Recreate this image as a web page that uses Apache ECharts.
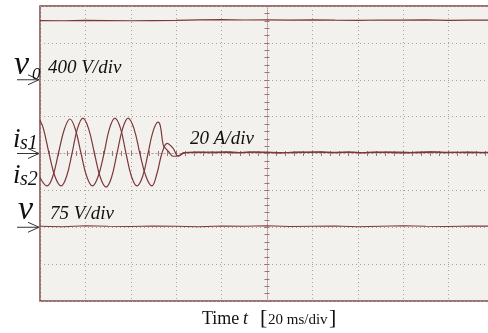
<!DOCTYPE html>
<html><head><meta charset="utf-8">
<script src="https://cdn.jsdelivr.net/npm/echarts@6/dist/echarts.min.js"></script>
<style>html,body{margin:0;padding:0;background:#fff}#c{width:488px;height:333px}</style>
</head><body><div id="c"></div>
<script>
// ---- Data (time in ms, 20 ms/div) ----
const timeMin = 0, timeMax = 200, timeStep = 20;
const divMin = -4, divMax = 4;

// v0 trace (V), 400 V/div
const v0Time  = [0,10,20,30,40,50,60,70,80,90,100,110,120,130,140,150,160,170,180,190,200];
const v0Volts = [642,640,643,641,640,642,645,650,652,648,649,646,650,647,645,648,646,649,645,647,648];

// is1 trace (A), 20 A/div
const is1Time = [0,3.1,5.6,8.1,10.7,13.2,15.6,18.1,20.6,23.1,25.6,28.2,30.6,33.0,35.5,37.9,40.3,42.7,45.2,47.6,49.8,52.0,53.0,54.3,55.5,57.0,58.5,61.0,63.5,
                 70,76,82,88,94,100,106,112,118,124,130,136,142,148,154,160,166,172,178,184,190,196,200];
const is1Amps = [-13,-17.6,-12.5,0,13,18.7,13,0,-12.5,-17.6,-12.5,0,13.5,19.2,13.5,0,-12.5,-17.6,-12.5,0,12,17,15,4.6,2.5,0.5,-1.5,-1.2,0.5,
                 0.7,0.4,0.9,0.5,0.8,0.6,0.3,0.8,0.6,0.9,0.4,0.7,0.5,0.8,0.6,0.3,0.7,0.9,0.5,0.6,0.8,0.4,0.6];

// is2 trace (A), 20 A/div
const is2Time = [0,1.5,4.0,6.6,9.3,11.7,14.1,16.5,18.9,21.4,24.0,26.6,29.1,31.5,33.9,36.4,38.8,41.4,44.0,46.7,49.3,51.5,53.7,56.0,58.5,61.0,64.0,
                 70,78,86,94,102,110,118,126,134,142,150,158,166,174,182,190,200];
const is2Amps = [18,13.5,0,-12.5,-17.6,-12.5,0,13.5,19.2,13.5,0,-13,-18.2,-13,0,13.5,19.2,13.5,0,-12.5,-17.6,-11,0,5.5,3,-1.5,0.5,
                 0.6,0.8,0.5,0.7,0.6,0.4,0.8,0.6,0.7,0.5,0.6,0.8,0.5,0.7,0.6,0.5,0.6];

// v trace (V), 75 V/div
const vTime  = [0,10,20,30,40,50,60,70,80,90,100,110,120,130,140,150,160,170,180,190,200];
const vVolts = [2,1,3,2,1.5,2.5,2,1,2.5,2,3,1.5,2,2.5,1,2,3,2,1.5,2.5,2];

// channel settings: units per division and reference level (div)
const channelScale  = {v0: 400, is: 20, v: 75};
const channelOffset = {v0: 2, is: 0, v: -2};

// ---- Build ----
function toDiv(vals, ch){ return vals.map(v => channelOffset[ch] + v / channelScale[ch]); }
function pairs(ts, ys){ return ts.map((t, i) => [t, ys[i]]); }

const traceColor = '#7a3838';
const gridDot = '#b99a9a';
const tickCol = '#9a7474';

const chart = echarts.init(document.getElementById('c'), null, {renderer: 'canvas'});

function xAx(pos, split){
  return {
    type: 'value', min: timeMin, max: timeMax, interval: timeStep, position: pos, gridIndex: 0,
    axisLine: {show: true, onZero: true, onZeroAxisIndex: 0, lineStyle: {color: gridDot, type: [1, 3], width: 1}},
    axisTick: {show: true, length: 2.5, lineStyle: {color: tickCol}},
    minorTick: {show: true, splitNumber: 5, length: 2.5, lineStyle: {color: tickCol}},
    axisLabel: {show: false},
    splitLine: {show: split, lineStyle: {color: gridDot, type: [1, 3], width: 1}}
  };
}
function yAx(pos, split){
  return {
    type: 'value', min: divMin, max: divMax, interval: 1, position: pos, offset: -227, gridIndex: 0,
    axisLine: {show: true, onZero: false, lineStyle: {color: gridDot, type: [1, 3], width: 1}},
    axisTick: {show: true, length: 2.5, lineStyle: {color: tickCol}},
    minorTick: {show: true, splitNumber: 5, length: 2.5, lineStyle: {color: tickCol}},
    axisLabel: {show: false},
    splitLine: {show: split, lineStyle: {color: gridDot, type: [1, 3], width: 1}}
  };
}

const lineBase = {type: 'line', showSymbol: false, symbol: 'none', xAxisIndex: 0, yAxisIndex: 0, animation: false,
                  lineStyle: {color: traceColor, width: 1.2}};

chart.setOption({
  animation: false,
  backgroundColor: '#ffffff',
  grid: {left: 40, top: 6, width: 454, height: 295, show: true, backgroundColor: '#f3f1ee',
         borderColor: '#7a4848', borderWidth: 1.5, outerBoundsMode: 'none', containLabel: false},
  xAxis: [xAx('bottom', true), xAx('top', false)],
  yAxis: [yAx('left', true), yAx('right', false)],
  series: [
    Object.assign({}, lineBase, {name: 'v0', data: pairs(v0Time, toDiv(v0Volts, 'v0'))}),
    Object.assign({}, lineBase, {name: 'is1', smooth: 0.4, data: pairs(is1Time, toDiv(is1Amps, 'is'))}),
    Object.assign({}, lineBase, {name: 'is2', smooth: 0.4, data: pairs(is2Time, toDiv(is2Amps, 'is'))}),
    Object.assign({}, lineBase, {name: 'v', data: pairs(vTime, toDiv(vVolts, 'v'))})
  ]
});

// ---- Annotations ----
const serif = 'Liberation Serif';
function txt(x, baseline, str, size, italic){
  return {type: 'text', silent: true, z: 100,
    style: {x: x, y: baseline - 0.34 * size, text: str, fill: '#111',
            font: (italic ? 'italic ' : '') + size + 'px "' + serif + '"',
            align: 'left', verticalAlign: 'middle'}};
}
function arrow(yDiv){
  const y = chart.convertToPixel({gridIndex: 0}, [timeMin, yDiv])[1];
  return [
    {type: 'polyline', silent: true, z: 100, shape: {points: [[17, y], [39, y]]}, style: {stroke: '#333', lineWidth: 1, fill: null}},
    {type: 'polyline', silent: true, z: 100, shape: {points: [[28, y - 5], [39, y], [28, y + 5]]}, style: {stroke: '#333', lineWidth: 1, fill: null}}
  ];
}
const g = [].concat(
  arrow(channelOffset.v0), arrow(channelOffset.is), arrow(channelOffset.v),
  [
    txt(14, 77, 'v', 34, true), txt(32, 80, '0', 17, true), txt(48, 74, '400 V/div', 19, true),
    txt(13, 149, 'i', 27, true), txt(20, 151, 's1', 20, true),
    txt(13, 185, 'i', 27, true), txt(20, 187, 's2', 20, true),
    txt(190, 145, '20 A/div', 19, true),
    txt(18, 222, 'v', 34, true), txt(50, 220, '75 V/div', 19, true),
    txt(202, 325, 'Time', 18, false), txt(243, 325, 't', 18, true),
    txt(260, 326, '[', 22, false), txt(268, 325, '20 ms/div', 15, false), txt(329, 326, ']', 22, false)
  ]
);
chart.setOption({graphic: g});
</script>
</body></html>
